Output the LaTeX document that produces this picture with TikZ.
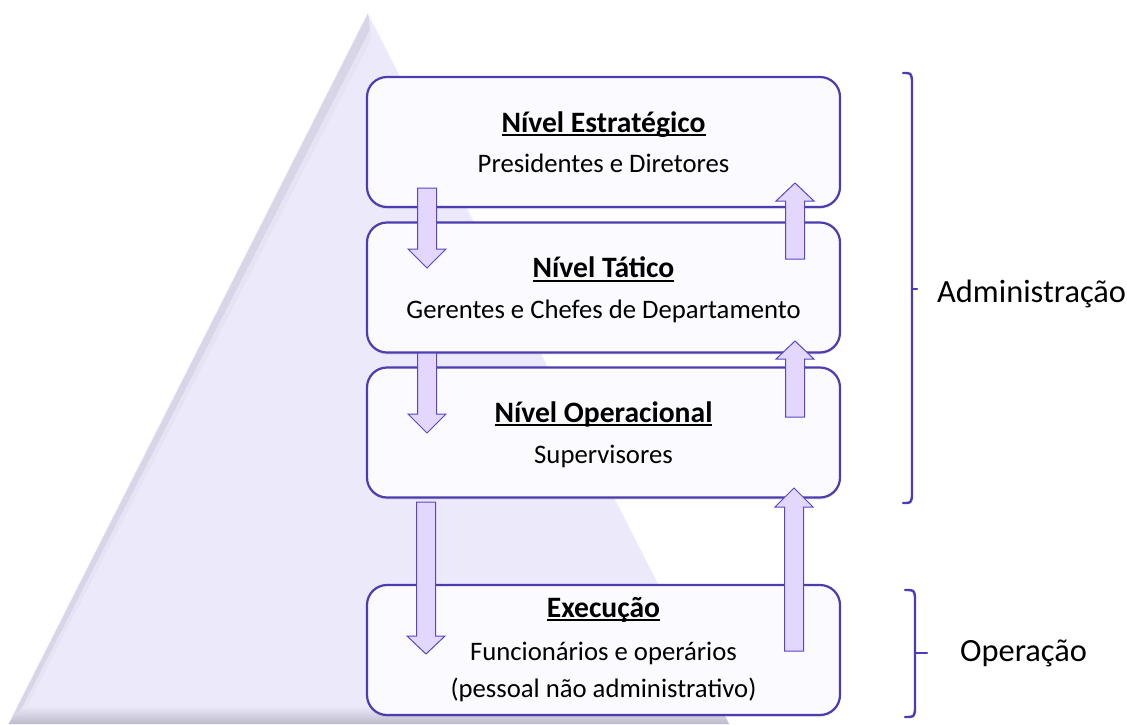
\documentclass[tikz,border=0pt]{standalone}
\usepackage{fontspec}
\setmainfont{Carlito}
\usetikzlibrary{shadows}
\definecolor{tri}{HTML}{ECE9FB}
\definecolor{triedge}{HTML}{D8D5E8}
\definecolor{trigrey}{HTML}{BDBACB}
\definecolor{boxline}{HTML}{4B3CAF}
\definecolor{boxfill}{HTML}{FBFAFE}
\definecolor{arrfill}{HTML}{E3D7FD}
\definecolor{arrline}{HTML}{5747C2}
\definecolor{bracecol}{HTML}{4B3BB5}
\newcommand\myul[1]{\leavevmode\setbox0=\hbox{#1}\rlap{\rule[-4pt]{\wd0}{2pt}}\box0}
\tikzset{
  lvlbox/.style={draw=boxline, line width=2.2pt, fill=boxfill, rounded corners=20pt,
    minimum width=473pt, minimum height=130pt, inner sep=0pt,
    drop shadow={shadow xshift=0pt, shadow yshift=-2pt, opacity=0.18}},
  titletxt/.style={font=\fontsize{29.6}{33}\selectfont\bfseries, anchor=base, inner sep=0pt},
  subtxt/.style={font=\fontsize{26.7}{30}\selectfont, anchor=base, inner sep=0pt},
  sidetxt/.style={font=\fontsize{32.4}{36}\selectfont, anchor=base west, inner sep=0pt},
  blockarr/.style={draw=arrline, line width=1pt, fill=arrfill, line join=miter},
  bracket/.style={draw=bracecol, line width=2.4pt, line cap=round}
}
\newcommand\downarr[4]{% x, top, headbase, tip
  \path[blockarr] (#1-9.5,#2) -- (#1+9.5,#2) -- (#1+9.5,#3) -- (#1+19,#3) -- (#1,#4)
    -- (#1-19,#3) -- (#1-9.5,#3) -- cycle;}
\newcommand\uparr[4]{% x, bottom, headbase, tip
  \path[blockarr] (#1-9.5,#2) -- (#1+9.5,#2) -- (#1+9.5,#3) -- (#1+19,#3) -- (#1,#4)
    -- (#1-19,#3) -- (#1-9.5,#3) -- cycle;}
\begin{document}
\begin{tikzpicture}[x=1pt,y=-1pt]
\useasboundingbox (0,0) rectangle (1127,724);
% pyramid
\fill[tri] (368,12) -- (730,724) -- (8,724) -- cycle;
\fill[triedge] (368,12) -- (370,30) -- (20,712) -- (8,724) -- cycle;
\fill[tri!70!triedge] (370,30) -- (20,712) -- (26,708) -- (371,40) -- cycle;
\shade[top color=tri, bottom color=trigrey] (24,706) -- (722,706) -- (730,724) -- (8,724) -- cycle;
\draw[white, line width=1.4pt, opacity=0.9] (368,12) -- (730,724);
\draw[white, line width=1pt, opacity=0.8] (368,12) -- (8,724);
% boxes
\node[lvlbox] (b1) at (603.5,142) {};
\node[lvlbox] (b2) at (603.5,287.5) {};
\node[lvlbox] (b3) at (603.5,432.5) {};
\node[lvlbox] (b4) at (603.5,650) {};
% texts
\node[titletxt] (t1) at (603.5,132) {\myul{Nível Estratégico}};
\node[subtxt] (s1) at (603.5,172) {Presidentes e Diretores};
\node[titletxt] (t2) at (603.5,277.5) {\myul{Nível Tático}};
\node[subtxt] (s2) at (603.5,318) {Gerentes e Chefes de Departamento};
\node[titletxt] (t3) at (603.5,422) {\myul{Nível Operacional}};
\node[subtxt] (s3) at (603.5,463) {Supervisores};
\node[titletxt] (t4) at (603.5,617) {\myul{Execução}};
\node[subtxt] (s4) at (603.5,660) {Funcionários e operários};
\node[subtxt] (s5) at (603.5,697) {(pessoal não administrativo)};
% arrows
\downarr{427}{188}{249}{268}
\downarr{427}{353}{414}{433}
\downarr{426}{502}{636}{654}
\uparr{795}{259}{201}{183}
\uparr{795}{417}{359}{341}
\uparr{794}{651}{507}{488}
% brackets
\coordinate (a1) at (903,73);
\coordinate (a2) at (903,503);
\draw[bracket] (a1) .. controls (911,73) .. (912,80) -- (912,496) .. controls (911,503) .. (a2);
\draw[bracket] (912,289) -- (917,289);
\coordinate (o1) at (905,590);
\coordinate (o2) at (905,717);
\draw[bracket] (o1) .. controls (914,590) .. (915,597) -- (915,710) .. controls (914,717) .. (o2);
\draw[bracket] (915,653) -- (927,653);
\node[sidetxt] (adm) at (937,302) {Administração};
\node[sidetxt] (op) at (960,661) {Operação};
\end{tikzpicture}
\end{document}
